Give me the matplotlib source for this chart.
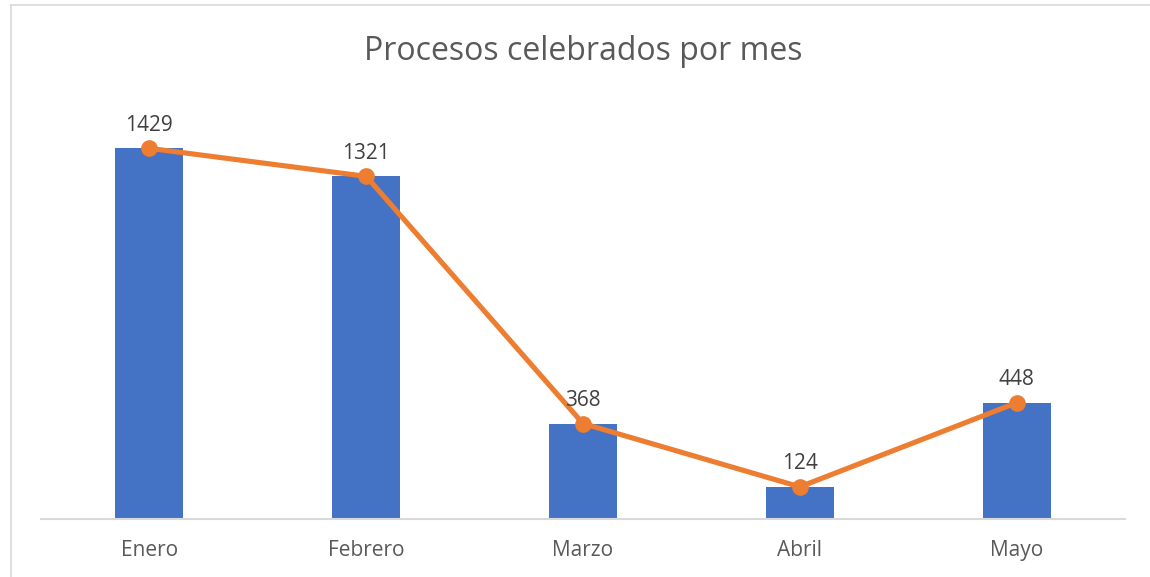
import matplotlib.pyplot as plt
from matplotlib.lines import Line2D

# Data
meses = ["Enero", "Febrero", "Marzo", "Abril", "Mayo"]
procesos = [1429, 1321, 368, 124, 448]

bar_color = "#4472C4"
line_color = "#ED7D31"

plt.rcParams['font.family'] = ['Open Sans', 'DejaVu Sans']

fig = plt.figure(figsize=(11.5, 5.77), dpi=100)
ax = fig.add_axes([41 / 1150, 1 - 519 / 577, 1084 / 1150, 415 / 577])

x = list(range(len(meses)))
ax.bar(x, procesos, width=0.314, color=bar_color, zorder=2)
ax.plot(x, procesos, color=line_color, linewidth=3.7, marker="o",
        markersize=11, zorder=3, solid_capstyle="round")

# Data labels above each point
for xi, v in zip(x, procesos):
    ax.annotate(str(v), (xi, v), xytext=(0, 9), textcoords="offset points",
                ha="center", va="bottom", fontsize=15, color="#404040")

ax.set_xlim(-0.5, len(meses) - 0.5)
ax.set_ylim(0, 1600)
ax.set_xticks(x)
ax.set_xticklabels(meses, fontsize=15, color="#595959")
ax.tick_params(axis="x", length=0, pad=15)
ax.set_yticks([])
for side in ["top", "right", "left"]:
    ax.spines[side].set_visible(False)
ax.spines["bottom"].set_color("#D9D9D9")
ax.spines["bottom"].set_linewidth(1.5)

fig.text(583 / 1150, 1 - 51 / 577, "Procesos celebrados por mes", ha="center",
         va="center", fontsize=23, color="#595959")

# Chart area border (top and left visible)
fig.add_artist(Line2D([11 / 1150, 1], [1 - 5 / 577, 1 - 5 / 577],
                      transform=fig.transFigure, color="#D9D9D9", linewidth=1.2))
fig.add_artist(Line2D([11 / 1150, 11 / 1150], [0, 1 - 5 / 577],
                      transform=fig.transFigure, color="#D9D9D9", linewidth=1.2))

fig.savefig("out.png", dpi=100)
